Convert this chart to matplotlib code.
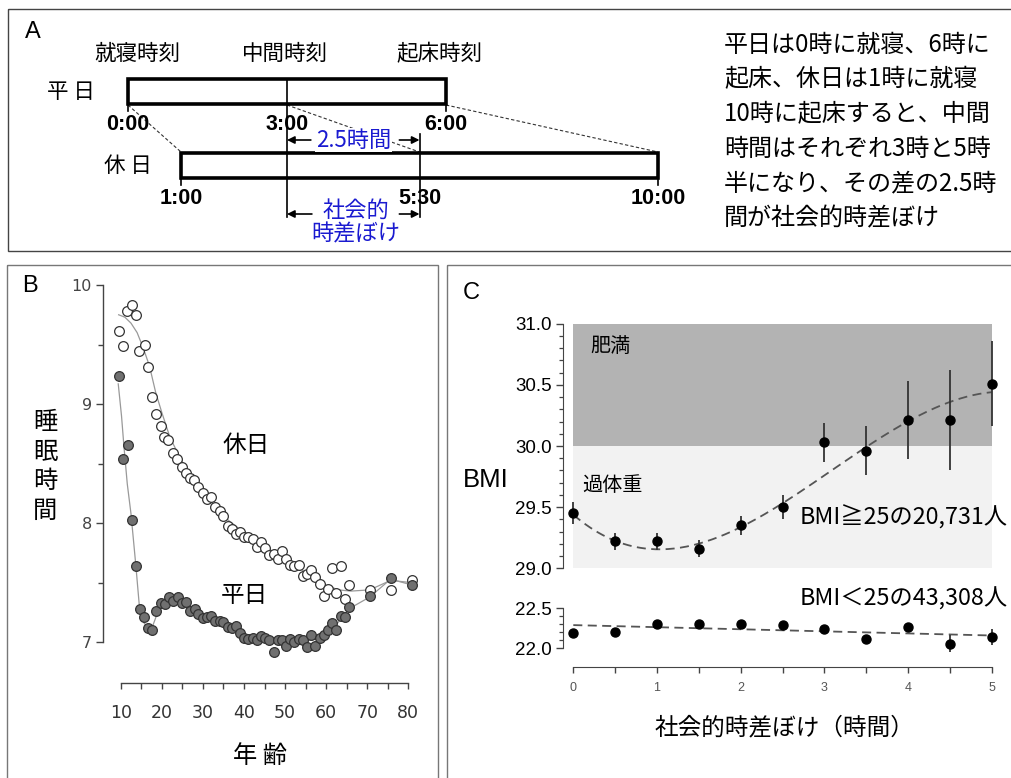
import numpy as np
import matplotlib
matplotlib.use('Agg')
import matplotlib.pyplot as plt
from matplotlib.patches import Rectangle
from matplotlib.ticker import FixedLocator

plt.rcParams['font.family'] = ['Noto Sans CJK JP', 'DejaVu Sans']

# ---------------- Panel A data ----------------
weekday_bed, weekday_wake = 0.0, 6.0
weekend_bed, weekend_wake = 1.0, 10.0
weekday_time_labels = ['0:00', '3:00', '6:00']
weekend_time_labels = ['1:00', '5:30', '10:00']
header_labels = ['就寝時刻', '中間時刻', '起床時刻']
sjl_label = '2.5時間'
note_lines = ['平日は0時に就寝、6時に',
              '起床、休日は1時に就寝',
              '10時に起床すると、中間',
              '時間はそれぞれ3時と5時',
              '半になり、その差の2.5時',
              '間が社会的時差ぼけ']

# ---------------- Panel B data ----------------
age_weekend = [9.6, 10.6, 11.5, 12.7, 13.7, 14.5, 15.8, 16.7, 17.7, 18.7, 19.75, 20.6, 21.6,
               22.7, 23.8, 24.9, 25.85, 26.9, 27.9, 28.9, 30.0, 31.0, 31.95, 33.0, 34.05,
               35.0, 36.1, 37.1, 38.1, 39.1, 40.1, 41.1, 42.2, 43.2, 44.2, 45.2, 46.2, 47.2,
               48.3, 49.3, 50.3, 51.3, 52.3, 53.3, 54.3, 55.4, 56.3, 57.4, 58.4, 59.4, 60.5,
               61.5, 62.5, 63.5, 64.5, 65.5, 70.6, 75.7, 81.0]
sleep_weekend = [9.61, 9.49, 9.78, 9.83, 9.75, 9.45, 9.50, 9.31, 9.06, 8.92, 8.82, 8.72, 8.70,
                 8.59, 8.54, 8.47, 8.42, 8.38, 8.36, 8.30, 8.25, 8.20, 8.22, 8.14, 8.10,
                 8.06, 7.98, 7.95, 7.91, 7.93, 7.88, 7.88, 7.87, 7.80, 7.84, 7.79, 7.73, 7.74,
                 7.70, 7.77, 7.70, 7.65, 7.64, 7.65, 7.56, 7.57, 7.61, 7.55, 7.49, 7.39, 7.45,
                 7.62, 7.41, 7.64, 7.36, 7.48, 7.44, 7.44, 7.52]
age_weekday = [9.6, 10.6, 11.7, 12.7, 13.7, 14.7, 15.7, 16.7, 17.7, 18.7, 19.75, 20.8, 21.8,
               22.8, 23.9, 24.9, 25.85, 26.9, 28.0, 28.9, 30.0, 31.0, 32.0, 33.0, 34.05,
               35.0, 36.1, 37.1, 38.1, 39.1, 40.1, 41.1, 42.2, 43.2, 44.2, 45.2, 46.2, 47.2,
               48.3, 49.3, 50.3, 51.3, 52.3, 53.3, 54.3, 55.4, 56.3, 57.4, 58.4, 59.4, 60.5,
               61.5, 62.5, 63.5, 64.5, 65.5, 70.6, 75.7, 81.0]
sleep_weekday = [9.24, 8.54, 8.66, 8.03, 7.64, 7.28, 7.21, 7.12, 7.10, 7.26, 7.33, 7.32, 7.38,
                 7.35, 7.38, 7.33, 7.34, 7.26, 7.28, 7.24, 7.20, 7.21, 7.22, 7.18, 7.18,
                 7.17, 7.13, 7.12, 7.14, 7.08, 7.04, 7.03, 7.04, 7.02, 7.05, 7.04, 7.02, 6.92,
                 7.02, 7.02, 6.97, 7.03, 7.00, 7.03, 7.02, 6.96, 7.06, 6.97, 7.04, 7.06, 7.10,
                 7.16, 7.10, 7.22, 7.21, 7.30, 7.39, 7.54, 7.48]
fit_age_weekend = [9.5, 11, 12.5, 14, 15.5, 17, 18.5, 20, 22, 24, 26, 28, 30, 33, 36, 40, 44,
                   48, 52, 56, 60, 63, 66, 70.6, 75.7, 81]
fit_sleep_weekend = [9.75, 9.73, 9.68, 9.60, 9.47, 9.32, 9.10, 8.93, 8.72, 8.58, 8.45, 8.35,
                     8.26, 8.14, 8.03, 7.92, 7.83, 7.74, 7.65, 7.57, 7.48, 7.44, 7.43, 7.44,
                     7.52, 7.50]
fit_age_weekday = [9.4, 10.2, 10.8, 11.6, 12.5, 13.7, 14.5, 15.5, 16.7, 17.7, 19, 21, 23, 25,
                   28, 30, 33, 36, 40, 44, 48, 52, 55, 58, 60, 62, 64, 65.5, 70.6, 75.7, 81]
fit_sleep_weekday = [9.17, 8.90, 8.64, 8.33, 8.08, 7.64, 7.32, 7.17, 7.12, 7.13, 7.25, 7.33,
                     7.35, 7.34, 7.28, 7.23, 7.19, 7.14, 7.07, 7.04, 7.01, 7.01, 7.01, 7.03,
                     7.07, 7.13, 7.21, 7.28, 7.38, 7.53, 7.48]

# ---------------- Panel C data ----------------
sjl_hours = [0, 0.5, 1, 1.5, 2, 2.5, 3, 3.5, 4, 4.5, 5]
bmi_high = [29.45, 29.22, 29.22, 29.16, 29.35, 29.50, 30.03, 29.96, 30.21, 30.21, 30.51]
bmi_high_err = [0.09, 0.07, 0.07, 0.07, 0.08, 0.10, 0.16, 0.20, 0.32, 0.41, 0.35]
bmi_high_fit = [29.42, 29.24, 29.18, 29.21, 29.31, 29.51, 29.75, 30.01, 30.22, 30.36, 30.43]
bmi_low = [22.19, 22.20, 22.30, 22.30, 22.31, 22.29, 22.24, 22.12, 22.27, 22.06, 22.14]
bmi_low_err = [0.03, 0.03, 0.02, 0.02, 0.02, 0.02, 0.03, 0.04, 0.05, 0.11, 0.10]
bmi_low_fit_x = [0, 5]
bmi_low_fit = [22.29, 22.16]
obese_band = (30.0, 31.0)
overweight_band = (29.0, 30.0)

# ---------------- layout helpers ----------------
W, H = 1011, 778
fig = plt.figure(figsize=(W / 100, H / 100), dpi=100)


def rect(l, t, r, b):
    return [l / W, 1 - b / H, (r - l) / W, (b - t) / H]


def pixel_axes():
    ax = fig.add_axes([0, 0, 1, 1])
    ax.set_xlim(0, W)
    ax.set_ylim(H, 0)
    ax.axis('off')
    ax.patch.set_alpha(0)
    return ax


ax0 = pixel_axes()
# panel frames
ax0.add_patch(Rectangle((8, 9), 1020, 242, fill=False, ec='#444', lw=1.0))
ax0.add_patch(Rectangle((7, 265), 431, 530, fill=False, ec='#777', lw=1.0))
ax0.add_patch(Rectangle((447, 265), 600, 530, fill=False, ec='#777', lw=1.0))

# ---------------- Panel A ----------------
px0, pph = 128.0, 53.0   # pixel of 0:00 and pixels per hour
axA = fig.add_axes(rect(10, 10, 1011, 250))
axA.set_xlim((10 - px0) / pph, (1011 - px0) / pph)
axA.set_ylim(240, 0)
axA.axis('off')
axA.patch.set_alpha(0)

yA = lambda y: y - 10  # pixel rows relative to axes top

weekday_mid = (weekday_bed + weekday_wake) / 2
weekend_mid = (weekend_bed + weekend_wake) / 2
sjl = weekend_mid - weekday_mid

axA.add_patch(Rectangle((weekday_bed, yA(79)), weekday_wake - weekday_bed, 25,
                        fc='white', ec='black', lw=2.6, zorder=3))
axA.add_patch(Rectangle((weekend_bed, yA(153)), weekend_wake - weekend_bed, 25,
                        fc='white', ec='black', lw=2.6, zorder=3))
axA.plot([weekday_mid, weekday_mid], [yA(79), yA(217)], color='black', lw=1.2, zorder=4)
axA.plot([weekend_mid, weekend_mid], [yA(134), yA(217)], color='black', lw=1.2, zorder=4)
for t in (weekday_bed, weekday_wake):
    axA.plot([t, t], [yA(104), yA(111)], color='black', lw=1.2)
for t in (weekend_bed, weekend_wake):
    axA.plot([t, t], [yA(178), yA(185)], color='black', lw=1.2)
for a, b in ((weekday_bed, weekend_bed), (weekday_mid, weekend_mid), (weekday_wake, weekend_wake)):
    axA.plot([a, b], [yA(105), yA(152)], color='#333', lw=0.8, dashes=(3, 2), zorder=1)

hdr_off = [0.17, -0.03, -0.12]
for t, lab, off in zip((weekday_bed, weekday_mid, weekday_wake), header_labels, hdr_off):
    axA.text(t + off, yA(54), lab, ha='center', va='center', fontsize=15.5)
axA.text(weekday_bed - 1.07, yA(92), '平 日', ha='center', va='center', fontsize=15.5)
axA.text(weekend_bed - 1.0, yA(166), '休 日', ha='center', va='center', fontsize=15.5)
for t, lab in zip((weekday_bed, weekday_mid, weekday_wake), weekday_time_labels):
    axA.text(t, yA(125), lab, ha='center', va='center', fontsize=15.5,
             family='Liberation Sans', weight='bold', zorder=5)
for t, lab in zip((weekend_bed, weekend_mid, weekend_wake), weekend_time_labels):
    axA.text(t, yA(199), lab, ha='center', va='center', fontsize=15.5,
             family='Liberation Sans', weight='bold', zorder=5)

blue = '#1a1ad0'
mid_x = weekday_mid + sjl / 2
axA.text(mid_x, yA(140), sjl_label, ha='center', va='center', fontsize=16, color=blue,
         bbox=dict(fc='white', ec='none', pad=0.5), zorder=5)
axA.text(mid_x + 0.05, yA(210), '社会的', ha='center', va='center', fontsize=16, color=blue)
axA.text(mid_x + 0.05, yA(234), '時差ぼけ', ha='center', va='center', fontsize=16, color=blue)
arrow_kw = dict(arrowstyle='-|>', color='black', lw=1.2, mutation_scale=11,
                shrinkA=0, shrinkB=0)
for yy, gl, gr in ((140, 0.8, 0.87), (214, 0.78, 0.87)):
    axA.annotate('', xy=(weekday_mid, yA(yy)), xytext=(mid_x - gl, yA(yy)),
                 arrowprops=arrow_kw, zorder=6)
    axA.annotate('', xy=(weekend_mid, yA(yy)), xytext=(mid_x + gr, yA(yy)),
                 arrowprops=arrow_kw, zorder=6)

# ---------------- Panel B ----------------
bx10, bx80 = 120.7, 408.3
by10, by7 = 285.0, 642.3
ppx = (bx80 - bx10) / 70
ppy = (by7 - by10) / 3
L, R, T, B = 103, 425, 279, 683
axB = fig.add_axes(rect(L, T, R, B))
axB.patch.set_alpha(0)
axB.set_xlim(10 - (bx10 - L) / ppx, 10 + (R - bx10) / ppx)
axB.set_ylim(7 - (B - by7) / ppy, 10 + (by10 - T) / ppy)

axB.plot(fit_age_weekend, fit_sleep_weekend, color='#999', lw=0.9, zorder=1)
axB.plot(fit_age_weekday, fit_sleep_weekday, color='#999', lw=0.9, zorder=1)
axB.plot(age_weekend, sleep_weekend, 'o', ms=7, mfc='white', mec='#333', mew=0.9, zorder=2)
axB.plot(age_weekday, sleep_weekday, 'o', ms=7, mfc='#707070', mec='#333', mew=0.9, zorder=3)

for s in ('top', 'right'):
    axB.spines[s].set_visible(False)
axB.spines['left'].set_bounds(7, 10)
axB.spines['bottom'].set_bounds(10, 80)
for s in ('left', 'bottom'):
    axB.spines[s].set_color('#444')
    axB.spines[s].set_linewidth(1.0)
axB.yaxis.set_major_locator(FixedLocator([7, 8, 9, 10]))
axB.yaxis.set_minor_locator(FixedLocator([7.5, 8.5, 9.5]))
axB.xaxis.set_major_locator(FixedLocator(list(range(10, 81, 10))))
axB.xaxis.set_minor_locator(FixedLocator(list(range(15, 80, 10))))
axB.tick_params(axis='y', which='major', length=5, width=1, color='#444', pad=3,
                labelsize=11.5, labelcolor='#444')
axB.tick_params(axis='y', which='minor', length=3.5, width=1, color='#444')
axB.tick_params(axis='x', which='both', length=4, width=1, color='#444', pad=11,
                labelsize=12.5, labelcolor='#333')
for lab in axB.get_xticklabels() + axB.get_yticklabels():
    lab.set_family('DejaVu Sans')

# ---------------- Panel C ----------------
cx0, cx5 = 573.3, 991.7
cppx = (cx5 - cx0) / 5
CL, CR = 563, 1011
xl = (-(cx0 - CL) / cppx, 5 + (CR - cx5) / cppx)

# upper axes
cy31, cy29 = 323.7, 568.3
cppy = (cy29 - cy31) / 2
CT, CB = 318, 572
axC1 = fig.add_axes(rect(CL, CT, CR, CB))
axC1.patch.set_alpha(0)
axC1.set_xlim(*xl)
axC1.set_ylim(29 - (CB - cy29) / cppy, 31 + (cy31 - CT) / cppy)
axC1.fill_between([sjl_hours[0], sjl_hours[-1]], *obese_band, color='#b3b3b3', lw=0, zorder=0)
axC1.fill_between([sjl_hours[0], sjl_hours[-1]], *overweight_band, color='#f2f2f2', lw=0, zorder=0)
xs = np.linspace(sjl_hours[0], sjl_hours[-1], 200)
axC1.plot(xs, np.polyval(np.polyfit(sjl_hours, bmi_high_fit, 3), xs), color='#555',
          lw=1.3, dashes=(5, 3), zorder=2)
axC1.errorbar(sjl_hours, bmi_high, yerr=bmi_high_err, fmt='o', ms=6.5, color='black',
              ecolor='#333', elinewidth=1.3, capsize=0, zorder=3)
for s in ('top', 'right', 'bottom'):
    axC1.spines[s].set_visible(False)
axC1.spines['left'].set_bounds(29, 31)
axC1.spines['left'].set_color('#444')
axC1.set_xticks([])
axC1.yaxis.set_major_locator(FixedLocator([29.0, 29.5, 30.0, 30.5, 31.0]))
axC1.yaxis.set_minor_locator(FixedLocator(np.round(np.arange(29.1, 31.0, 0.1), 1)))
axC1.set_yticklabels(['29.0', '29.5', '30.0', '30.5', '31.0'])
axC1.tick_params(axis='y', which='major', length=5, width=1, color='#444', pad=3,
                 labelsize=13.5)
axC1.tick_params(axis='y', which='minor', length=3, width=0.9, color='#444')
for lab in axC1.get_yticklabels():
    lab.set_family('Liberation Sans')

# lower axes
cy225, cy220 = 608.3, 648.3
lppy = (cy220 - cy225) / 0.5
LT, LB = 598, 667
axC2 = fig.add_axes(rect(CL, LT, CR, LB))
axC2.patch.set_alpha(0)
axC2.set_xlim(*xl)
axC2.set_ylim(22.0 - (LB - cy220) / lppy, 22.5 + (cy225 - LT) / lppy)
axC2.plot(bmi_low_fit_x, bmi_low_fit, color='#555', lw=1.3, dashes=(5, 3), zorder=2)
axC2.errorbar(sjl_hours, bmi_low, yerr=bmi_low_err, fmt='o', ms=6.5, color='black',
              ecolor='#333', elinewidth=1.3, capsize=0, zorder=3)
for s in ('top', 'right'):
    axC2.spines[s].set_visible(False)
axC2.spines['left'].set_bounds(22.0, 22.5)
axC2.spines['bottom'].set_bounds(0, 5)
for s in ('left', 'bottom'):
    axC2.spines[s].set_color('#444')
axC2.yaxis.set_major_locator(FixedLocator([22.0, 22.5]))
axC2.yaxis.set_minor_locator(FixedLocator([22.1, 22.2, 22.3, 22.4]))
axC2.set_yticklabels(['22.0', '22.5'])
axC2.set_xticks(sjl_hours)
axC2.set_xticklabels([str(int(v)) if float(v).is_integer() else '' for v in sjl_hours])
axC2.tick_params(axis='y', which='major', length=5, width=1, color='#444', pad=3,
                 labelsize=13.5)
axC2.tick_params(axis='y', which='minor', length=3, width=0.9, color='#444')
axC2.tick_params(axis='x', length=4.5, width=1, color='#444', pad=6, labelsize=9,
                 labelcolor='#555')
for lab in axC2.get_yticklabels() + axC2.get_xticklabels():
    lab.set_family('Liberation Sans')

# ---------------- overlay texts (on top of all axes) ----------------
axT = pixel_axes()
axT.text(33, 32, 'A', ha='center', va='center', fontsize=17, family='Liberation Sans')
for i, line in enumerate(note_lines):
    axT.text(724, 45 + 34.6 * i, line, ha='left', va='center', fontsize=17.3)

axT.text(30, 286, 'B', ha='center', va='center', fontsize=17, family='Liberation Sans')
for i, ch in enumerate('睡眠時間'):
    axT.text(45, 422 + 29.6 * i, ch, ha='center', va='center', fontsize=17.5)
axT.text(260, 756, '年 齢', ha='center', va='center', fontsize=17.5)
axT.text(246, 445, '休日', ha='center', va='center', fontsize=17)
axT.text(244, 595, '平日', ha='center', va='center', fontsize=17)

axT.text(471, 293, 'C', ha='center', va='center', fontsize=17, family='Liberation Sans')
axT.text(463, 480, 'BMI', ha='left', va='center', fontsize=18.5, family='Liberation Sans')
axT.text(590, 346, '肥満', ha='left', va='center', fontsize=14.5)
axT.text(582, 485, '過体重', ha='left', va='center', fontsize=14.5)
axT.text(800, 517, 'BMI≧25の20,731人', ha='left', va='center', fontsize=16.8)
axT.text(800, 599, 'BMI＜25の43,308人', ha='left', va='center', fontsize=16.8)
axT.text(784, 728, '社会的時差ぼけ（時間）', ha='center', va='center', fontsize=17)

fig.savefig('out.png', dpi=100)
